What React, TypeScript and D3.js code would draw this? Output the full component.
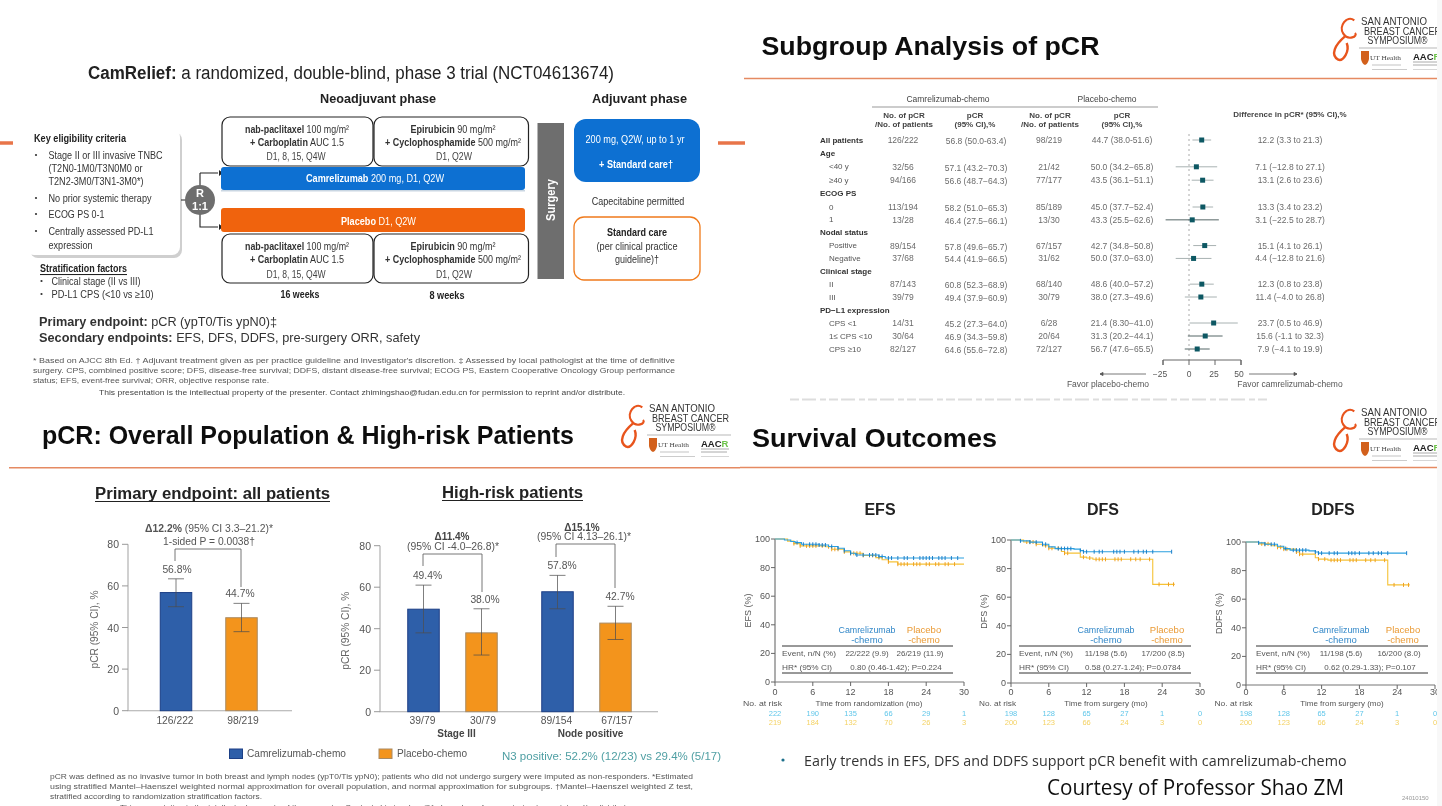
import React from "react";
import * as d3 from "d3";

/* ---------- data ---------- */
const forestLabels = ["All patients","Age","<40 y","≥40 y","ECOG PS","0","1","Nodal status","Positive","Negative","Clinical stage","II","III","PD−L1 expression","CPS <1","1≤ CPS <10","CPS ≥10"];
const forestHeads = ["Age","ECOG PS","Nodal status","Clinical stage","PD−L1 expression","All patients"];
const camN = ["126/222","","32/56","94/166","","113/194","13/28","","89/154","37/68","","87/143","39/79","","14/31","30/64","82/127"];
const camP = ["56.8 (50.0-63.4)","","57.1 (43.2−70.3)","56.6 (48.7−64.3)","","58.2 (51.0−65.3)","46.4 (27.5−66.1)","","57.8 (49.6−65.7)","54.4 (41.9−66.5)","","60.8 (52.3−68.9)","49.4 (37.9−60.9)","","45.2 (27.3−64.0)","46.9 (34.3−59.8)","64.6 (55.6−72.8)"];
const plaN = ["98/219","","21/42","77/177","","85/189","13/30","","67/157","31/62","","68/140","30/79","","6/28","20/64","72/127"];
const plaP = ["44.7 (38.0-51.6)","","50.0 (34.2−65.8)","43.5 (36.1−51.1)","","45.0 (37.7−52.4)","43.3 (25.5−62.6)","","42.7 (34.8−50.8)","50.0 (37.0−63.0)","","48.6 (40.0−57.2)","38.0 (27.3−49.6)","","21.4 (8.30−41.0)","31.3 (20.2−44.1)","56.7 (47.6−65.5)"];
const diffMid = [12.2,null,7.1,13.1,null,13.3,3.1,null,15.1,4.4,null,12.3,11.4,null,23.7,15.6,7.9];
const diffLow = [3.3,null,-12.8,2.6,null,3.4,-22.5,null,4.1,-12.8,null,0.8,-4.0,null,0.5,-1.1,-4.1];
const diffHigh = [21.3,null,27.1,23.6,null,23.2,28.7,null,26.1,21.6,null,23.8,26.8,null,46.9,32.3,19.9];
const diffText = ["12.2 (3.3 to 21.3)","","7.1 (−12.8 to 27.1)","13.1 (2.6 to 23.6)","","13.3 (3.4 to 23.2)","3.1 (−22.5 to 28.7)","","15.1 (4.1 to 26.1)","4.4 (−12.8 to 21.6)","","12.3 (0.8 to 23.8)","11.4 (−4.0 to 26.8)","","23.7 (0.5 to 46.9)","15.6 (-1.1 to 32.3)","7.9 (−4.1 to 19.9)"];
const forestTicks = [-25,0,25,50];

const allGroups = [""];
const allValues = [56.8,44.7];
const allLow = [50.0,38.0];
const allHigh = [63.4,51.6];
const allLabels = ["126/222","98/219"];

const riskGroups = ["Stage III","Node positive"];
const riskValues = [49.4,38.0,57.8,42.7];
const riskLow = [38.0,27.3,49.6,34.8];
const riskHigh = [61.0,49.6,65.7,50.8];
const riskLabels = ["39/79","30/79","89/154","67/157"];
const barTicks = [0,20,40,60,80];

const kmMonths = [0,6,12,18,24,30];
const efsCamT = [0,1.5,2.5,3.2,4.2,7,8.5,10,11,12,12.8,16.5,17.5,30];
const efsCamS = [100,99.3,98.3,97.5,96.3,95.8,94.8,93.5,91.8,90,88.8,87.8,86.7,86.7];
const efsPlaT = [0,2,3,4,8,9,11,12,14,16,17,18,19.5,30];
const efsPlaS = [100,98.5,96.8,95.2,94.6,92.8,91,90,88.5,87,85.5,84,82.4,82.4];
const efsCamC = [3.5,4.5,5.5,6,6.5,7,7.5,8,9,10,11,12,13,14,15,15.5,16,16.5,17,18,18.5,19.5,20.5,21,22,23,23.5,24,24.5,25,26,26.5,27,28,29];
const efsPlaC = [3,4,5,5.5,6,6.5,7.5,8.5,9,9.5,10,11,12,12.5,13,13.5,14,15,15.5,16.5,18,19.5,20,20.5,21,22,22.5,23,24,24.5,25.5,26,27,27.5,28.5];
const dfsCamT = [0,1.5,3,5,6,7,10,11,11.5,25.5];
const dfsCamS = [100,99.4,98.5,97,95.2,94,93.6,92.6,91.8,91.8];
const dfsPlaT = [0,2,4,5,6,8,8.5,11,12,13,22.5,26];
const dfsPlaS = [100,98.6,97,96,94.2,92,90.8,88,87.4,86.5,69,69];
const dfsCamC = [1.5,3,4,5,5.5,7.5,8,8.5,9,9.5,11,11.5,12,13.2,14,14.5,16.3,16.8,17.3,18,19.5,20.2,21,21.5,22.5,25.5];
const dfsPlaC = [2.5,3,3.5,4,5.5,6,6.5,7.5,8.5,9,11.5,12.5,13.5,14,14.5,15,16.5,17,17.5,19,19.8,20.5,22,23.5,25,25.8];
const ddfsCamT = [0,2,3,5,6,7,10,11,11.5,25.5];
const ddfsCamS = [100,99.4,98.4,97,95.4,94.3,93.8,93,92.2,92.2];
const ddfsPlaT = [0,2,4,5,6,8,8.5,11,11.5,13,22.5,26];
const ddfsPlaS = [100,98.7,97.4,96.3,95,93,91.5,89,88,87.3,70,70];
const ddfsCamC = [2,3,4,4.5,6.3,7.5,8,8.5,9,9.5,11,11.5,12,13.2,14,14.5,16.3,16.8,17.3,18,19.5,20.2,21,21.5,22.5,25.5];
const ddfsPlaC = [2.5,3,3.5,5,5.5,6,6.5,8,8.5,9,11.5,12.5,13.5,14,14.5,15,16.5,17,17.5,19,19.8,20.5,22,23.5,25,25.8];

const efsRiskCam = [222,190,135,66,29,1];
const efsRiskPla = [219,184,132,70,26,3];
const dfsRiskCam = [198,128,65,27,1,0];
const dfsRiskPla = [200,123,66,24,3,0];

/* ---------- helpers ---------- */
const SANS = "'Liberation Sans', Arial, sans-serif";
const T = ({x,y,s=10,b=false,fill="#333",a="start",len,fam=SANS,deco,rot,children}: any) => (
  <text x={x} y={y} fontSize={s} fontFamily={fam} fontWeight={b?700:400} fill={fill} textAnchor={a}
    dominantBaseline="central" textDecoration={deco}
    textLength={len} lengthAdjust={len?"spacingAndGlyphs":undefined}
    transform={rot?`rotate(${rot} ${x} ${y})`:undefined}>{children}</text>
);
const Bold = ({children}: any) => <tspan fontWeight={700}>{children}</tspan>;

const Rule = ({x1,x2,y}: any) => <line x1={x1} x2={x2} y1={y} y2={y} stroke="#e58a62" strokeWidth={1.6}/>;

const Logo = ({x,y}: any) => (
  <g transform={`translate(${x},${y})`}>
    <path d="M-6.7,7.3 C-14.3,1.7 -22.7,13.3 -17.7,20.7 C-12.7,28.3 -2.7,23.3 -6,20" fill="none" stroke="#e8541e" strokeWidth={2.2}/>
    <path d="M-16,23.3 C-26,31.7 -31,41.7 -22.7,46.7 C-17.7,48.3 -11,38.3 -14.3,30" fill="none" stroke="#e8541e" strokeWidth={2.4}/>
    <T x={0} y={8} s={10} fill="#333" len={66}>SAN ANTONIO</T>
    <T x={3} y={18} s={10} fill="#333" len={77}>BREAST CANCER</T>
    <T x={6.5} y={27} s={10} fill="#333" len={60}>SYMPOSIUM®</T>
    <line x1={-2} x2={82} y1={35} y2={35} stroke="#999" strokeWidth={0.7}/>
    <path d="M0,38 h8 v8 q-1,5 -4,6 q-3,-1 -4,-6 z" fill="#d2601a"/>
    <T x={9} y={45} s={7} fam="'Liberation Serif', serif" fill="#444" len={31}>UT Health</T>
    <line x1={11} x2={40} y1={52} y2={52} stroke="#aaa" strokeWidth={0.7}/>
    <line x1={11} x2={46} y1={56.5} y2={56.5} stroke="#ccc" strokeWidth={1}/>
    <text x={52} y={43} fontSize={9.5} fontFamily={SANS} fontWeight={700} fill="#222" dominantBaseline="central">AAC<tspan fill="#6cc24a">R</tspan></text>
    <line x1={52} x2={80} y1={49} y2={49} stroke="#aaa" strokeWidth={1}/>
    <line x1={52} x2={78} y1={52} y2={52} stroke="#aaa" strokeWidth={1}/>
    <line x1={52} x2={80} y1={56.5} y2={56.5} stroke="#ccc" strokeWidth={0.8}/>
  </g>
);

/* ---------- top-left: trial design ---------- */
const Regimen = ({y}: any) => {
  const ys = [y+12, y+25, y+ (y<200?39:40)];
  return (
    <g>
      <rect x={222} y={y} width={151} height={y<200?49:49} rx={8} fill="#fff" stroke="#222" strokeWidth={1.2}/>
      <rect x={374} y={y} width={154.5} height={49} rx={8} fill="#fff" stroke="#222" strokeWidth={1.2}/>
      <T x={297} y={ys[0]} s={10.5} a="middle" len={104} fill="#333"><Bold>nab-paclitaxel</Bold> 100 mg/m²</T>
      <T x={297} y={ys[1]} s={10.5} a="middle" len={94} fill="#333"><Bold>+ Carboplatin</Bold> AUC 1.5</T>
      <T x={296} y={ys[2]} s={10} a="middle" len={59} fill="#444">D1, 8, 15, Q4W</T>
      <T x={453} y={ys[0]} s={10.5} a="middle" len={85} fill="#333"><Bold>Epirubicin</Bold> 90 mg/m²</T>
      <T x={453} y={ys[1]} s={10.5} a="middle" len={136} fill="#333"><Bold>+ Cyclophosphamide</Bold> 500 mg/m²</T>
      <T x={454} y={ys[2]} s={10} a="middle" len={36} fill="#444">D1, Q2W</T>
    </g>
  );
};

const Design = () => (
  <g>
    <T x={88} y={73} s={18} len={526} fill="#222"><Bold>CamRelief:</Bold> a randomized, double-blind, phase 3 trial (NCT04613674)</T>
    <T x={320} y={99} s={12.5} b len={116} fill="#222">Neoadjuvant phase</T>
    <T x={592} y={99} s={12.5} b len={95} fill="#222">Adjuvant phase</T>
    <line x1={0} x2={13} y1={143} y2={143} stroke="#e8744a" strokeWidth={3.5}/>
    <line x1={718} x2={745} y1={143} y2={143} stroke="#e8744a" strokeWidth={3.5}/>

    <rect x={30} y={132} width={152} height={126} rx={8} fill="#cfcfcf"/>
    <rect x={26} y={129} width={154} height={126} rx={8} fill="#fff"/>
    <T x={34} y={138} s={10.5} b len={92} fill="#222">Key eligibility criteria</T>
    {[155,198,214,231].map(y => <circle key={y} cx={36} cy={y} r={1.1} fill="#333"/>)}
    <T x={48.5} y={155} s={10.5} len={114}>Stage II or III invasive TNBC</T>
    <T x={48.5} y={168} s={10.5} len={94}>(T2N0-1M0/T3N0M0 or</T>
    <T x={48.5} y={181} s={10.5} len={95}>T2N2-3M0/T3N1-3M0*)</T>
    <T x={48.5} y={198} s={10.5} len={103}>No prior systemic therapy</T>
    <T x={48.5} y={214} s={10.5} len={56}>ECOG PS 0-1</T>
    <T x={48.5} y={231} s={10.5} len={105}>Centrally assessed PD-L1</T>
    <T x={48.5} y={245} s={10.5} len={44}>expression</T>
    <T x={40} y={268} s={10.5} b len={87} deco="underline" fill="#222">Stratification factors</T>
    <circle cx={41.5} cy={281} r={1.1} fill="#333"/>
    <circle cx={41.5} cy={294} r={1.1} fill="#333"/>
    <T x={51.5} y={281} s={10.5} len={89}>Clinical stage (II vs III)</T>
    <T x={51.5} y={294} s={10.5} len={102}>PD-L1 CPS (&lt;10 vs ≥10)</T>

    <path d="M181,200 H186 M200,173 H218 M200,173 V227 H218" fill="none" stroke="#222" strokeWidth={1.1}/>
    <path d="M219,170 l0,6 l4,-3 z M219,224 l0,6 l4,-3 z" fill="#222"/>
    <circle cx={200} cy={200} r={15} fill="#6e6e6e"/>
    <T x={200} y={193} s={11} b a="middle" fill="#fff">R</T>
    <T x={200} y={206} s={11} b a="middle" fill="#fff">1:1</T>

    <Regimen y={117}/>
    <rect x={221} y={167} width={304} height={23} rx={3} fill="#0a6fd2"/>
    <rect x={221} y={190} width={304} height={1.5} fill="#c9d6e2"/>
    <T x={375} y={178} s={11} a="middle" len={138} fill="#fff"><Bold>Camrelizumab</Bold> 200 mg, D1, Q2W</T>
    <rect x={221} y={208} width={304} height={24} rx={3} fill="#f06408"/>
    <T x={378.5} y={221} s={11} a="middle" len={75} fill="#fff"><Bold>Placebo</Bold> D1, Q2W</T>
    <Regimen y={234}/>
    <T x={300} y={294} s={10.5} b a="middle" len={39} fill="#222">16 weeks</T>
    <T x={447} y={295} s={10.5} b a="middle" len={35} fill="#222">8 weeks</T>

    <rect x={537.5} y={123} width={26.5} height={156} fill="#6e6e6e"/>
    <T x={550} y={200} s={13} b a="middle" fill="#fff" rot={-90} len={42}>Surgery</T>

    <rect x={574} y={119} width={126} height={63} rx={12} fill="#0a6fd2"/>
    <T x={635} y={139} s={10.5} a="middle" len={99} fill="#fff">200 mg, Q2W, up to 1 yr</T>
    <T x={636} y={164} s={10.5} b a="middle" len={74} fill="#fff">+ Standard care†</T>
    <T x={638} y={201} s={10.5} a="middle" len={92.5}>Capecitabine permitted</T>
    <rect x={574} y={217} width={126} height={63} rx={10} fill="#fff" stroke="#f07a1a" strokeWidth={1.3}/>
    <T x={637} y={232} s={10.5} b a="middle" len={60} fill="#222">Standard care</T>
    <T x={637} y={246} s={10.5} a="middle" len={81}>(per clinical practice</T>
    <T x={637} y={259} s={10.5} a="middle" len={44}>guideline)†</T>

    <T x={39} y={321} s={13.5} len={238} fill="#333"><Bold>Primary endpoint:</Bold> pCR (ypT0/Tis ypN0)‡</T>
    <T x={39} y={337} s={13.5} len={381} fill="#333"><Bold>Secondary endpoints:</Bold> EFS, DFS, DDFS, pre-surgery ORR, safety</T>
    <T x={33} y={360} s={7.6} len={642} fill="#555">* Based on AJCC 8th Ed. † Adjuvant treatment given as per practice guideline and investigator's discretion. ‡ Assessed by local pathologist at the time of definitive</T>
    <T x={33} y={370} s={7.6} len={642} fill="#555">surgery. CPS, combined positive score; DFS, disease-free survival;  DDFS, distant disease-free survival; ECOG PS, Eastern Cooperative Oncology Group performance</T>
    <T x={33} y={380} s={7.6} len={236} fill="#555">status; EFS, event-free survival; ORR, objective response rate.</T>
    <T x={99} y={392} s={7.6} len={526} fill="#444">This presentation is the intellectual property of the presenter. Contact zhimingshao@fudan.edu.cn for permission to reprint and/or distribute.</T>
  </g>
);

/* ---------- top-right: forest ---------- */
const Forest = () => {
  const rowY = d3.scaleLinear().domain([0,5,12,16]).range([140,207,297,349]);
  const fx = d3.scaleLinear().domain([-25,50]).range([1163,1241]);
  const G = "#6b6b6b";
  const darkRows = ["1","1≤ CPS <10","CPS ≥10"];
  return (
    <g>
      <T x={761.5} y={46} s={26} b len={338} fill="#111">Subgroup Analysis of pCR</T>
      <Rule x1={744} x2={1442} y={78.5}/>
      <T x={948} y={99} s={8.5} a="middle" fill="#444">Camrelizumab-chemo</T>
      <T x={1107} y={99} s={8.5} a="middle" fill="#444">Placebo-chemo</T>
      <line x1={872} x2={1158} y1={107} y2={107} stroke="#999"/>
      {[904,1050].map(x => <g key={x}>
        <T x={x} y={115} s={8} b a="middle" fill="#444">No. of pCR</T>
        <T x={x} y={124} s={8} b a="middle" fill="#444">/No. of patients</T>
      </g>)}
      {[975,1122].map(x => <g key={x}>
        <T x={x} y={115} s={8} b a="middle" fill="#444">pCR</T>
        <T x={x} y={124} s={8} b a="middle" fill="#444">(95% CI),%</T>
      </g>)}
      <T x={1290} y={114.5} s={8} b a="middle" fill="#444">Difference in pCR* (95% CI),%</T>
      <line x1={1189} x2={1189} y1={134} y2={360} stroke="#aaa" strokeDasharray="2 3"/>
      {forestLabels.map((l,i) => {
        const y = rowY(i);
        const head = forestHeads.includes(l);
        const m = diffMid[i];
        return <g key={l}>
          <T x={head?820:829} y={y} s={8} b={head} fill={head?"#333":"#555"}>{l}</T>
          <T x={903} y={y} s={8.5} a="middle" fill={G}>{camN[i]}</T>
          <T x={976} y={y+1} s={8.5} a="middle" fill={G}>{camP[i]}</T>
          <T x={1049} y={y} s={8.5} a="middle" fill={G}>{plaN[i]}</T>
          <T x={1122} y={y} s={8.5} a="middle" fill={G}>{plaP[i]}</T>
          <T x={1290} y={y} s={8.5} a="middle" fill={G}>{diffText[i]}</T>
          {m!==null && <g>
            <line x1={fx(diffLow[i] as number)} x2={fx(diffHigh[i] as number)} y1={y} y2={y}
              stroke={darkRows.includes(l)?"#566":"#a8b2b2"} strokeWidth={1}/>
            <rect x={fx(m)-2.5} y={y-2.5} width={5} height={5} fill="#0f5864"/>
          </g>}
        </g>;
      })}
      <path d={`M${fx(-25)},365 V360 H${fx(50)} V365`} fill="none" stroke="#666"/>
      {forestTicks.map(t => <g key={t}>
        <line x1={fx(t)} x2={fx(t)} y1={360} y2={365} stroke="#666"/>
        <T x={fx(t)-(t===-25?3:t===50?2:t===25?1:0)} y={374} s={8.5} a="middle" fill="#555">{t===-25?"−25":t}</T>
      </g>)}
      <path d="M1100,374 H1146 M1100,374 l3,-1.6 v3.2 z M1249,374 H1297 M1297,374 l-3,-1.6 v3.2 z" stroke="#555" fill="#555" strokeWidth={0.8}/>
      <T x={1108} y={384} s={8.5} a="middle" fill="#555">Favor placebo-chemo</T>
      <T x={1290} y={384} s={8.5} a="middle" fill="#555">Favor camrelizumab-chemo</T>
      <line x1={790} x2={1270} y1={399.5} y2={399.5} stroke="#ddd" strokeWidth={2} strokeDasharray="9 3 14 4 6 3"/>
    </g>
  );
};

/* ---------- bottom-left: bars ---------- */
const Bars = ({axisX,axisEnd,zero,top,groups,centers,offs,values,low,high,labels,titleX,labelDx}: any) => {
  const y = d3.scaleLinear().domain([0,80]).range([zero,top]);
  const gx = d3.scalePoint().domain(groups).range(centers);
  const inner = d3.scalePoint().domain(["cam","pla"]).range([-offs,offs]);
  const bw = 31.5;
  return (
    <g>
      <path d={`M${axisX},${top} V${zero} H${axisEnd}`} fill="none" stroke="#aaa" strokeWidth={1.1}/>
      {barTicks.map(t => <g key={t}>
        <line x1={axisX-6} x2={axisX} y1={y(t)} y2={y(t)} stroke="#999"/>
        <T x={axisX-9} y={y(t)} s={10.5} a="end" fill="#555">{t}</T>
      </g>)}
      <T x={titleX} y={(zero+top)/2+2} s={10} a="middle" rot={-90} fill="#666" len={78}>pCR (95% CI), %</T>
      {values.map((v: number,i: number) => {
        const g = groups[Math.floor(i/2)];
        const arm = i%2===0?"cam":"pla";
        const cx = (gx(g) as number)+(inner(arm) as number);
        const fill = arm==="cam"?"#2f5fa9":"#f3941d";
        const stroke = arm==="cam"?"#1c3f86":"#a98a62";
        return <g key={i}>
          <rect x={cx-bw/2} y={y(v)} width={bw} height={zero-y(v)} fill={fill} stroke={stroke} strokeWidth={1}/>
          <path d={`M${cx},${y(low[i])} V${y(high[i])} M${cx-8},${y(low[i])} h16 M${cx-8},${y(high[i])} h16`} fill="none" stroke="#4c4c4c" strokeWidth={0.9} opacity={0.8}/>
          <T x={cx+labelDx[i]} y={y(high[i])-9.5} s={10.3} a="middle" fill="#555">{v.toFixed(1)}%</T>
          <T x={cx+(i%2===0?-1:1.5)} y={720} s={10.3} a="middle" fill="#555">{labels[i]}</T>
        </g>;
      })}
      {groups.map((g: string) => g && <T key={g} x={(gx(g) as number)+4} y={733} s={10} b a="middle" fill="#444">{g}</T>)}
    </g>
  );
};

const BarsPanel = () => (
  <g>
    <T x={42} y={435} s={26} b len={532} fill="#111">pCR: Overall Population &amp; High-risk Patients</T>
    <Rule x1={9} x2={740} y={467.7}/>
    <T x={95} y={493} s={16} b len={235} fill="#222">Primary endpoint: all patients</T>
    <line x1={95} x2={330} y1={501.5} y2={501.5} stroke="#222" strokeWidth={1.1}/>
    <T x={442} y={492} s={16} b len={141} fill="#222">High-risk patients</T>
    <line x1={442} x2={583} y1={500.5} y2={500.5} stroke="#222" strokeWidth={1.1}/>

    <Bars axisX={128} axisEnd={292} zero={710.7} top={544.3} groups={allGroups} centers={[208.75,208.75]} offs={32.75}
      values={allValues} low={allLow} high={allHigh} labels={allLabels} titleX={94} labelDx={[1,-1.5]}/>
    <path d="M175,561 V549 H241 V587" fill="none" stroke="#666" strokeWidth={0.9}/>
    <T x={209} y={528} s={10} a="middle" fill="#555" len={128}><Bold>Δ12.2%</Bold> (95% CI 3.3–21.2)*</T>
    <T x={209} y={541} s={10} a="middle" fill="#555" len={92}>1-sided P = 0.0038†</T>

    <Bars axisX={380} axisEnd={658} zero={711.7} top={545.7} groups={riskGroups} centers={[452.5,586.5]} offs={29}
      values={riskValues} low={riskLow} high={riskHigh} labels={riskLabels} titleX={346} labelDx={[4,3.5,4.5,4.5]}/>
    <path d="M423,566 V554 H482 V592" fill="none" stroke="#666" strokeWidth={0.9}/>
    <path d="M556,557 V544 H615 V588" fill="none" stroke="#666" strokeWidth={0.9}/>
    <T x={452} y={536} s={10} b a="middle" fill="#444">Δ11.4%</T>
    <T x={453} y={546} s={10} a="middle" fill="#555" len={92}>(95% CI -4.0–26.8)*</T>
    <T x={582} y={527} s={10} b a="middle" fill="#444">Δ15.1%</T>
    <T x={584} y={536} s={10} a="middle" fill="#555" len={94}>(95% CI 4.13–26.1)*</T>

    <rect x={229.5} y={749} width={13} height={9.5} fill="#2f5fa9" stroke="#1c3f86"/>
    <T x={247} y={753} s={10} fill="#555" len={99}>Camrelizumab-chemo</T>
    <rect x={379} y={749} width={13} height={9.5} fill="#f3941d" stroke="#a98a62"/>
    <T x={397} y={753} s={10} fill="#555" len={70}>Placebo-chemo</T>
    <T x={502} y={756} s={11} fill="#4f9fa3" len={219}>N3 positive: 52.2% (12/23) vs 29.4% (5/17)</T>

    <T x={50} y={776} s={7.6} len={643} fill="#555">pCR was defined as no invasive tumor in both breast and lymph nodes (ypT0/Tis ypN0); patients who did not undergo surgery were imputed as non-responders. *Estimated</T>
    <T x={50} y={786} s={7.6} len={643} fill="#555">using stratified Mantel–Haenszel weighted normal approximation for overall population, and normal approximation for subgroups. †Mantel–Haenszel weighted Z test,</T>
    <T x={50} y={796} s={7.6} len={212} fill="#555">stratified according to randomization stratification factors.</T>
    <T x={120} y={807} s={7.6} len={513} fill="#555">This presentation is the intellectual property of the presenter. Contact zhimingshao@fudan.edu.cn for permission to reprint and/or distribute.</T>
  </g>
);

/* ---------- bottom-right: Kaplan-Meier ---------- */
const stepAt = (ts: number[], ss: number[], t: number) => ss[Math.max(0, d3.bisectRight(ts, t)-1)];

const Curve = ({x,y,ts,ss,cs,line,mark}: any) => {
  const path = d3.line<number>().x((_,i)=>x(ts[i])).y(d=>y(d)).curve(d3.curveStepAfter)(ss) as string;
  return <g>
    <path d={path} fill="none" stroke={line} strokeWidth={1.1}/>
    {cs.map((c: number,i: number) => <line key={i} x1={x(c)} x2={x(c)} y1={y(stepAt(ts,ss,c))-2} y2={y(stepAt(ts,ss,c))+2} stroke={mark} strokeWidth={1}/>)}
  </g>;
};

const KM = ({title,axisLabel,x0,x30,yTop,yZero,titleX,yLab,timeX,timeLabel,riskX,riskLen,rX1,rX2,camC,plaC,evCam,evPla,evCamX,evPlaX,hr,hrX,cam,pla,riskCam,riskPla}: any) => {
  const x = d3.scaleLinear().domain([0,30]).range([x0,x30]);
  const y = d3.scaleLinear().domain([0,100]).range([yZero,yTop]);
  return <g>
    <T x={titleX} y={509} s={16} b a="middle" fill="#222">{title}</T>
    <path d={`M${x0},${yTop} V${yZero} H${x30}`} fill="none" stroke="#777" strokeWidth={1.2}/>
    {y.ticks(5).map(t => <g key={t}>
      <line x1={x0-4} x2={x0} y1={y(t)} y2={y(t)} stroke="#666"/>
      <T x={x0-5} y={y(t)} s={9} a="end" fill="#555">{t}</T>
    </g>)}
    {kmMonths.map((m,i) => <g key={m}>
      <line x1={x(m)} x2={x(m)} y1={yZero} y2={yZero+4} stroke="#666"/>
      <T x={x(m)} y={692} s={9} a="middle" fill="#555">{m}</T>
      <T x={x(m)} y={713} s={7.5} a="middle" fill="#5fc6ea">{riskCam[i]}</T>
      <T x={x(m)} y={722} s={7.5} a="middle" fill="#f4d264">{riskPla[i]}</T>
    </g>)}
    <T x={x0-27} y={(yTop+yZero)/2} s={9} a="middle" rot={-90} fill="#555">{axisLabel}</T>
    <Curve x={x} y={y} ts={pla.t} ss={pla.s} cs={plaC} line="#f6c236" mark="#f0a020"/>
    <Curve x={x} y={y} ts={cam.t} ss={cam.s} cs={camC} line="#2aa0e0" mark="#1d7fca"/>
    <T x={evCamX} y={629} s={9.5} a="middle" fill="#3187c8" len={57}>Camrelizumab</T>
    <T x={evCamX} y={639} s={9.5} a="middle" fill="#3187c8">-chemo</T>
    <T x={evPlaX+4} y={629} s={9.5} a="middle" fill="#ea9a34">Placebo</T>
    <T x={evPlaX+4} y={639} s={9.5} a="middle" fill="#ea9a34">-chemo</T>
    <line x1={rX1} x2={rX2} y1={646} y2={646} stroke="#333" strokeWidth={1}/>
    <line x1={rX1} x2={rX2} y1={673} y2={673} stroke="#333" strokeWidth={1}/>
    <T x={rX1} y={653} s={8} fill="#555" len={54}>Event, n/N (%)</T>
    <T x={rX1} y={667} s={8} fill="#555" len={50}>HR* (95% CI)</T>
    <T x={evCamX} y={653} s={8} a="middle" fill="#555">{evCam}</T>
    <T x={evPlaX} y={653} s={8} a="middle" fill="#555">{evPla}</T>
    <T x={hrX} y={667} s={8} a="middle" fill="#555">{hr}</T>
    <T x={riskX} y={703} s={8} fill="#555" len={riskLen}>No. at risk</T>
    <T x={timeX} y={703} s={8} a="middle" fill="#555">{timeLabel}</T>
  </g>;
};

const Survival = () => (
  <g>
    <T x={752} y={438} s={26} b len={245} fill="#111">Survival Outcomes</T>
    <Rule x1={740} x2={1442} y={467.5}/>
    <KM title="EFS" axisLabel="EFS (%)" x0={775} x30={964} yTop={539} yZero={682} titleX={880} timeX={869}
      timeLabel="Time from randomization (mo)" riskX={743} riskLen={39} rX1={782} rX2={953}
      cam={{t:efsCamT,s:efsCamS}} pla={{t:efsPlaT,s:efsPlaS}} camC={efsCamC} plaC={efsPlaC}
      evCam="22/222 (9.9)" evPla="26/219 (11.9)" evCamX={867} evPlaX={920} hr="0.80 (0.46-1.42); P=0.224" hrX={896}
      riskCam={efsRiskCam} riskPla={efsRiskPla}/>
    <KM title="DFS" axisLabel="DFS (%)" x0={1011} x30={1200} yTop={540} yZero={683} titleX={1103} timeX={1106}
      timeLabel="Time from surgery (mo)" riskX={979} riskLen={37} rX1={1019} rX2={1191}
      cam={{t:dfsCamT,s:dfsCamS}} pla={{t:dfsPlaT,s:dfsPlaS}} camC={dfsCamC} plaC={dfsPlaC}
      evCam="11/198 (5.6)" evPla="17/200 (8.5)" evCamX={1106} evPlaX={1163} hr="0.58 (0.27-1.24); P=0.0784" hrX={1133}
      riskCam={dfsRiskCam} riskPla={dfsRiskPla}/>
    <KM title="DDFS" axisLabel="DDFS (%)" x0={1246} x30={1435} yTop={542} yZero={685} titleX={1333} timeX={1342}
      timeLabel="Time from surgery (mo)" riskX={1214.5} riskLen={38} rX1={1256} rX2={1428}
      cam={{t:ddfsCamT,s:ddfsCamS}} pla={{t:ddfsPlaT,s:ddfsPlaS}} camC={ddfsCamC} plaC={ddfsPlaC}
      evCam="11/198 (5.6)" evPla="16/200 (8.0)" evCamX={1341} evPlaX={1399} hr="0.62 (0.29-1.33); P=0.107" hrX={1370}
      riskCam={dfsRiskCam} riskPla={dfsRiskPla}/>
    <circle cx={783} cy={760} r={1.6} fill="#1f6f8b"/>
    <T x={804} y={760} s={14.5} fam="'Open Sans', sans-serif" len={542.5} fill="#333">Early trends in EFS, DFS and DDFS support pCR benefit with camrelizumab-chemo</T>
    <T x={1047} y={786} s={22} fam="'Open Sans', sans-serif" len={297} fill="#111">Courtesy of Professor Shao ZM</T>
    <T x={1402} y={798} s={6} fill="#999">24010150</T>
  </g>
);

export default function App() {
  return (
    <svg width={1442} height={806} viewBox="0 0 1442 806"
      style={{position:"absolute",left:0,top:0,display:"block",background:"#fff"}}>
      <defs>
        <filter id="soft" filterUnits="userSpaceOnUse" x={0} y={0} width={1442} height={806}>
          <feGaussianBlur stdDeviation={0.55}/>
        </filter>
      </defs>
      <g filter="url(#soft)">
        <rect x={0} y={0} width={1442} height={806} fill="#fff"/>
        <Design/>
        <Forest/>
        <BarsPanel/>
        <Survival/>
        <Logo x={1361} y={13}/>
        <Logo x={649} y={400}/>
        <Logo x={1361} y={404}/>
        <rect x={1437} y={0} width={5} height={806} fill="#f8f8f8"/>
      </g>
    </svg>
  );
}
